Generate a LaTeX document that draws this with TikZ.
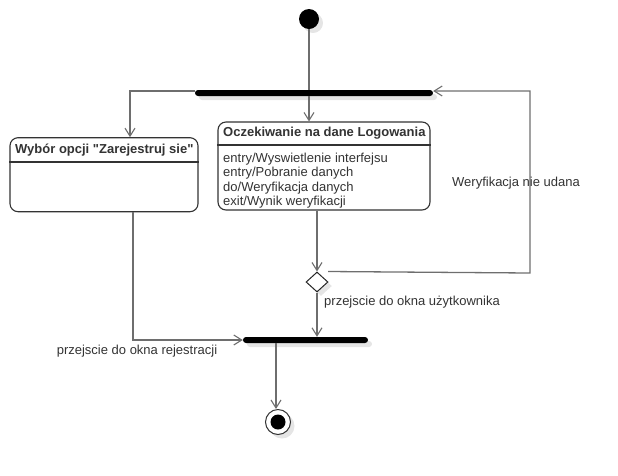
\documentclass[tikz,border=0pt]{standalone}
\usepackage{fontspec}
\setmainfont{Liberation Sans}
\newfontfamily\plainsans{Liberation Sans}[Ligatures=TeXOff]
\usetikzlibrary{arrows.meta,shapes.geometric,shadows,calc}
\definecolor{linegray}{HTML}{6E6E6E}
\definecolor{txtgray}{HTML}{333333}
\begin{document}
\begin{tikzpicture}[x=1pt,y=-1pt,
  every node/.style={font=\fontsize{13}{14.5}\selectfont, text=txtgray},
  flow/.style={draw=linegray, line width=1.3pt, -{Straight Barb[length=8pt,width=10pt,line width=1.1pt]}},
  plain/.style={draw=linegray, line width=1.3pt},
  shad/.style={drop shadow={shadow xshift=4pt, shadow yshift=-4pt, fill=black!10, opacity=1}},
  barnode/.style={shad, fill=black, rounded corners=3pt, minimum height=6pt, inner sep=0pt},
  statebox/.style={draw=black!80, line width=1.1pt, rounded corners=8pt, fill=white, inner sep=0pt},
  lbl/.style={inner sep=1pt}
]
\useasboundingbox (0,0) rectangle (618,475);

% initial node
\node[shad, circle, fill=black, minimum size=20pt, inner sep=0pt] (init) at (309,19) {};

% fork bar
\node[barnode, minimum width=238pt] (fork) at (314,93) {};

% registration state
\node[statebox, minimum width=188pt, minimum height=74pt] (reg) at (104,174.7) {};
\draw[black!80, line width=1.1pt] (reg.west |- 0,162) -- (reg.east |- 0,162);
\node[anchor=west, font=\plainsans\bfseries\fontsize{13}{14.5}\selectfont, inner sep=0pt] (regtitle) at (15,150) {Wybór opcji "Zarejestruj sie"};

% login state
\node[statebox, minimum width=212pt, minimum height=88pt] (login) at (324,166) {};
\draw[black!80, line width=1.1pt] (login.west |- 0,145) -- (login.east |- 0,145);
\node[anchor=west, font=\bfseries\fontsize{13}{14.5}\selectfont, inner sep=0pt] (logtitle) at (223,133) {Oczekiwanie na dane Logowania};
\node[anchor=north west, align=left, inner sep=0pt] (logbody) at (223,152.5) {entry/Wyswietlenie interfejsu\\entry/Pobranie danych\\do/Weryfikacja danych\\exit/Wynik weryfikacji};

% decision
\node[shad, diamond, draw=black!85, fill=white, line width=1pt, minimum width=22pt, minimum height=20pt, inner sep=0pt] (dec) at (317,282) {};

% join bar
\node[barnode, minimum width=125pt] (join) at (305.5,340) {};

% final node
\node[shad, circle, draw=black!80, fill=white, line width=1pt, minimum size=25pt, inner sep=0pt] (final) at (278,422) {};
\fill[black] (final.center) circle (7.5);

% connectors
\draw[plain] (init.south) -- (init.south |- fork.north);
\draw[flow] (fork.south -| init) -- (login.north -| init);
\draw[flow] ([yshift=2]fork.west) -| ($(reg.north)+(26,0)$);
\draw[flow] (login.south -| dec) -- (dec.north);
\coordinate (loopstart) at ($(dec.north)+(11,0)$);
\coordinate (loopcorner) at (530,273);
\draw[flow] (loopstart) -- (loopcorner) |- ([yshift=2]fork.east);
\node[lbl] (lblfail) at (516,183) {Weryfikacja nie udana};
\draw[flow] (dec.south) -- (dec.south |- join.north);
\node[lbl] (lbluser) at (412,302) {przejscie do okna użytkownika};
\draw[flow] ($(reg.south)+(29,0)$) |- (join.west);
\node[lbl] (lblreg) at (137,351) {przejscie do okna rejestracji};
\draw[flow] (join.south -| 276,0) -- (final.north -| 276,0);
\end{tikzpicture}
\end{document}
